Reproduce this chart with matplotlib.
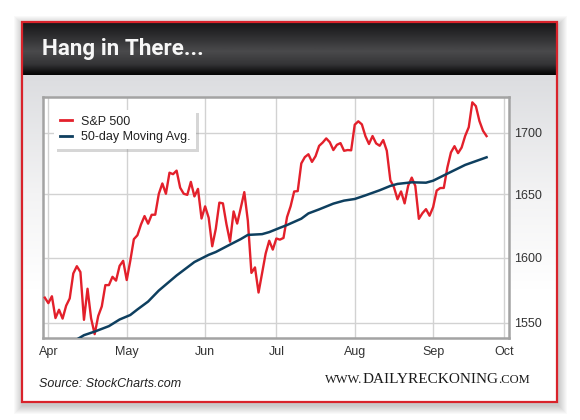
import numpy as np
import pandas as pd
import matplotlib
matplotlib.use("Agg")
import matplotlib.pyplot as plt
from matplotlib.patches import Rectangle
from matplotlib.lines import Line2D
from matplotlib.colors import to_rgb

# ---------------- data ----------------
title = "Hang in There..."
source_text = "Source: StockCharts.com"
brand_parts = ["WWW.", "DAILYRECKONING", ".COM"]
series_names = ["S&P 500", "50-day Moving Avg."]
start_date, end_date = "2013-03-28", "2013-10-01"
market_holidays = ["2013-03-29", "2013-05-27", "2013-07-04", "2013-09-02"]
month_labels = ["Apr", "May", "Jun", "Jul", "Aug", "Sep", "Oct"]
ytick_values = [1550, 1600, 1650, 1700]

# daily closes, one per trading day from 2013-03-28 to 2013-09-24
sp500 = [
    1569.19,
    # Apr
    1565.0, 1570.25, 1553.69, 1559.98, 1553.28, 1563.07, 1568.61, 1587.73, 1593.37, 1588.85,
    1552.36, 1576.0, 1553.5, 1541.61, 1555.25, 1562.50, 1578.78, 1578.79, 1585.16, 1582.24,
    1593.61, 1597.57,
    # May
    1582.70, 1597.59, 1614.42, 1617.50, 1625.96, 1632.69, 1626.67, 1633.70, 1633.77, 1650.34,
    1658.78, 1650.47, 1667.47, 1666.29, 1669.16, 1655.35, 1650.51, 1649.60, 1660.06, 1648.36,
    1654.41, 1630.74,
    # Jun
    1640.42, 1631.38, 1608.90, 1622.56, 1643.38, 1642.81, 1626.13, 1612.52, 1636.36, 1626.73,
    1639.04, 1651.81, 1628.93, 1588.19, 1592.43, 1573.09, 1588.03, 1603.26, 1613.20, 1606.28,
    # Jul
    1614.96, 1614.08, 1615.41, 1631.89, 1640.46, 1652.32, 1652.62, 1675.02, 1680.19, 1682.50,
    1676.26, 1680.91, 1689.37, 1692.09, 1695.53, 1692.39, 1685.94, 1690.25, 1691.65, 1685.33,
    1685.96, 1685.73,
    # Aug
    1706.87, 1709.67, 1707.14, 1697.37, 1690.91, 1697.48, 1691.42, 1689.47, 1694.16, 1685.39,
    1661.32, 1655.83, 1646.06, 1652.35, 1642.80, 1656.96, 1663.50, 1656.78, 1630.48, 1634.96,
    1638.17, 1632.97,
    # Sep
    1639.77, 1653.08, 1655.08, 1655.17, 1671.71, 1683.99, 1689.13, 1683.42, 1687.99, 1697.60,
    1704.76, 1725.52, 1722.34, 1709.91, 1701.84, 1697.42,
]

ma_dates = [
    "2013-04-10", "2013-04-15", "2013-04-18", "2013-04-24", "2013-04-29", "2013-05-02",
    "2013-05-06", "2013-05-09", "2013-05-14", "2013-05-21", "2013-05-29", "2013-06-04",
    "2013-06-06", "2013-06-12", "2013-06-17", "2013-06-19", "2013-06-25", "2013-06-27",
    "2013-07-02", "2013-07-05", "2013-07-11", "2013-07-15", "2013-07-18", "2013-07-24",
    "2013-07-29", "2013-08-01", "2013-08-06", "2013-08-12", "2013-08-15", "2013-08-19",
    "2013-08-23", "2013-08-29", "2013-09-03", "2013-09-06", "2013-09-16", "2013-09-24",
]
ma_values = [
    1536.0, 1540.8, 1543.5, 1547.6, 1552.6, 1556.0,
    1560.2, 1566.2, 1574.6, 1586.2, 1596.6, 1602.2,
    1604.4, 1610.2, 1614.5, 1617.8, 1618.4, 1620.0,
    1623.4, 1625.6, 1630.6, 1634.8, 1638.0, 1642.6,
    1645.0, 1646.3, 1649.2, 1653.3, 1656.8, 1658.4,
    1659.7, 1659.4, 1661.0, 1665.3, 1673.8, 1680.0,
]

# ---------------- trading-day axis ----------------
cal = pd.bdate_range(start_date, end_date, freq="C", holidays=market_holidays)
pos = {d.strftime("%Y-%m-%d"): i for i, d in enumerate(cal)}
x_sp = np.arange(len(sp500))
x_ma = np.array([pos[d] for d in ma_dates])
month_start = [i for i, d in enumerate(cal) if i == 0 or cal[i - 1].month != d.month][1:]

RED = "#e3202b"
NAVY = "#0e3f5f"

fig = plt.figure(figsize=(5.8, 4.2), dpi=100)
fig.patch.set_facecolor("white")

# ---------------- background / frame (pixel coords) ----------------
bg = fig.add_axes([0, 0, 1, 1], zorder=0)
bg.axis("off")
L, R, T, B = 22, 557, 22, 402
for k in range(1, 10):
    bg.add_patch(Rectangle((L - k + 1, T - k + 3), (R - L) + 2 * k, (B - T) + 2 * k,
                           facecolor="black", alpha=0.022, edgecolor="none", zorder=1))
bg.add_patch(Rectangle((L, T), R - L, B - T, facecolor="white", edgecolor="none", zorder=1.5))


def vgrad(stops, n=200):
    ys = np.linspace(0, 1, n)
    sp = [s for s, _ in stops]
    cols = np.array([to_rgb(c) for _, c in stops])
    out = np.stack([np.interp(ys, sp, cols[:, j]) for j in range(3)], axis=1)
    return out[:, None, :]


bg.imshow(vgrad([(0, "#dcdde0"), (0.55, "#f3f3f4"), (1, "#ffffff")]),
          extent=(L, R, 290, 75), aspect="auto", interpolation="bilinear", zorder=2)
bg.imshow(vgrad([(0, "#161617"), (0.25, "#2c2c2e"), (0.55, "#4a4a4c"),
                 (0.8, "#343436"), (0.96, "#0c0c0c"), (1, "#050505")]),
          extent=(L, R, 75, T), aspect="auto", interpolation="bilinear", zorder=2)
bg.add_patch(Rectangle((L, T), R - L, B - T, fill=False, edgecolor="#d9232b",
                       linewidth=1.6, zorder=3))
bg.set_xlim(0, 580)
bg.set_ylim(420, 0)

fig.canvas.draw()
renderer = fig.canvas.get_renderer()

# title: bold, fitted to the reference width
title_t = bg.text(42, 49, title, color="#f7f7f7", fontsize=16, fontweight="bold",
                  family=["Roboto", "DejaVu Sans"], va="center", ha="left", zorder=4)
w = title_t.get_window_extent(renderer=renderer).width
title_t.set_fontsize(16 * 161.0 / w)

bg.text(39, 384, source_text, color="#222222", fontsize=9, style="italic",
        family=["Liberation Sans", "DejaVu Sans"], va="center", ha="left", zorder=4)

# brand text in mixed sizes
bx = 325
for part, fs in zip(brand_parts, [9.0, 11.0, 9.0]):
    t = bg.text(bx, 383, part, fontsize=fs, family=["Liberation Serif", "DejaVu Serif"],
                color="#1a1a1a", va="baseline", ha="left", zorder=4)
    bb = t.get_window_extent(renderer=renderer)
    bx += bb.width

# ---------------- main chart ----------------
ax = fig.add_axes([43 / 580, 1 - 338 / 420, (509 - 43) / 580, (338 - 97) / 420], zorder=2)
ax.set_facecolor("white")
ax.plot(x_sp, sp500, color=RED, lw=1.7, solid_joinstyle="round", zorder=3)
ax.plot(x_ma, ma_values, color=NAVY, lw=1.8, solid_joinstyle="round", zorder=4)

ax.set_yscale("log")
ax.set_ylim(1538.7, 1730)
ax.set_xlim(-0.5, 130.3)
ax.yaxis.set_major_locator(matplotlib.ticker.FixedLocator(ytick_values))
ax.yaxis.set_minor_locator(matplotlib.ticker.NullLocator())
ax.yaxis.set_major_formatter(matplotlib.ticker.FixedFormatter([str(v) for v in ytick_values]))
ax.set_xticks(month_start)
ax.set_xticklabels(month_labels)
ax.yaxis.tick_right()
ax.tick_params(axis="both", length=0, labelsize=9, labelcolor="#333333")
ax.tick_params(axis="x", pad=6)
ax.tick_params(axis="y", pad=4)
for lab in ax.get_xticklabels() + ax.get_yticklabels():
    lab.set_family(["Liberation Sans", "DejaVu Sans"])
ax.grid(True, color="#d2d2d2", lw=1.0)
ax.set_axisbelow(True)
for s in ax.spines.values():
    s.set_color("#a3a3a3")
    s.set_linewidth(1.8)

handles = [Line2D([], [], color=RED, lw=2), Line2D([], [], color=NAVY, lw=2)]
leg = ax.legend(handles, series_names, loc="upper left", bbox_to_anchor=(0.0236, 0.946),
                borderaxespad=0, frameon=True, fancybox=False, handlelength=1.0,
                handletextpad=0.7, borderpad=0.45, labelspacing=0.3,
                prop={"family": ["Liberation Sans", "DejaVu Sans"], "size": 9},
                shadow={"color": "0.55", "alpha": 0.35, "linewidth": 0})
leg.get_frame().set_edgecolor("none")
leg.get_frame().set_facecolor("white")
for t in leg.get_texts():
    t.set_color("#222222")

fig.savefig("out.png", dpi=100, facecolor="white")
